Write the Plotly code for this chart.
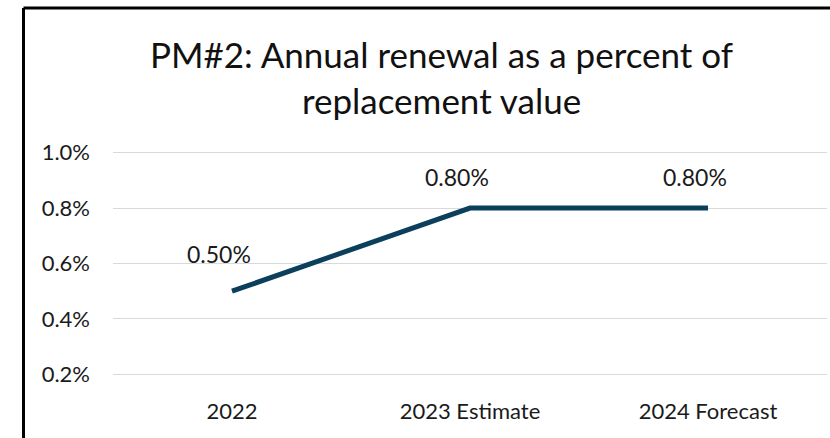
import plotly.graph_objects as go

categories = ["2022", "2023 Estimate", "2024 Forecast"]
values = [0.50, 0.80, 0.80]
y_ticks = [0.2, 0.4, 0.6, 0.8, 1.0]
title_text = "PM#2: Annual renewal as a percent of<br>replacement value"

# label placement (style only)
label_yshift = [37, 31, 31]

FONT = "Lato, Open Sans, sans-serif"
W, H = 830, 438
L, R, T, B = 113, 3, 140, 42
pw, ph = W - L - R, H - T - B

fig = go.Figure()
fig.add_trace(go.Scatter(
    x=categories, y=values, mode="lines",
    line=dict(color="#0B3F5C", width=5),
    hoverinfo="skip", showlegend=False,
))

for i, v in enumerate(values):
    fig.add_annotation(x=i, y=v, text=f"{v:.2f}%", showarrow=False,
                       xshift=-13, yshift=label_yshift[i],
                       font=dict(family=FONT, size=23, color="#1a1a1a"))

# title
fig.add_annotation(xref="paper", yref="paper",
                   x=(441 - L) / pw, y=(H - B - 77) / ph,
                   xanchor="center", yanchor="middle",
                   text=title_text, showarrow=False,
                   font=dict(family=FONT, size=35, color="#111111"))

# chart frame (left and top edges visible)
bx = (23.5 - L) / pw
by = (H - B - 8) / ph
fig.add_shape(type="line", xref="paper", yref="paper", x0=bx, x1=bx, y0=by, y1=-0.3,
              line=dict(color="black", width=3))
fig.add_shape(type="line", xref="paper", yref="paper", x0=bx, x1=1.2, y0=by, y1=by,
              line=dict(color="black", width=3))

fig.update_layout(
    width=W, height=H,
    margin=dict(l=L, r=R, t=T, b=B),
    paper_bgcolor="white", plot_bgcolor="white",
    font=dict(family=FONT, size=22, color="#1a1a1a"),
    xaxis=dict(type="category", range=[-0.5, 2.5], showgrid=False, zeroline=False,
               showline=False, ticks="", fixedrange=True),
    yaxis=dict(range=[0.2 - (H - B - 374.3) / 277, 1.0 + (152.7 - T) / 277],
               tickvals=y_ticks, ticktext=[f"{t:.1f}%" for t in y_ticks],
               showgrid=True, gridcolor="#D9D9D9", gridwidth=1,
               zeroline=False, showline=False, ticks="", ticklabelstandoff=22,
               fixedrange=True),
)

fig.write_html("out.html", config={"displayModeBar": False, "staticPlot": True},
               post_script="document.body.style.margin='0';")
